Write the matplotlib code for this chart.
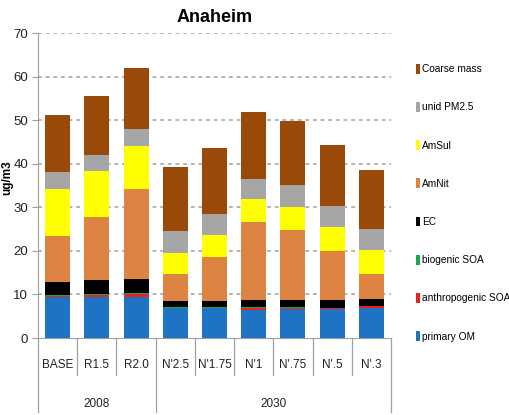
import matplotlib
matplotlib.use("Agg")
import matplotlib.pyplot as plt
import numpy as np

plt.rcParams['font.family'] = ['Liberation Sans', 'DejaVu Sans']

categories = ["BASE", "R1.5", "R2.0", "N'2.5", "N'1.75", "N'1", "N'.75", "N'.5", "N'.3"]
groups = ["2008", "2030"]
group_sizes = [3, 6]

primary_OM = [9.4, 9.4, 9.4, 6.9, 6.9, 6.5, 6.75, 6.75, 6.9]
anthro_SOA = [0.2, 0.4, 0.8, 0.1, 0.1, 0.5, 0.2, 0.1, 0.4]
biogenic_SOA = [0.2, 0.2, 0.2, 0.1, 0.2, 0.1, 0.1, 0.1, 0.1]
EC = [3.1, 3.3, 3.1, 1.4, 1.2, 1.6, 1.65, 1.75, 1.6]
AmNit = [10.5, 14.4, 20.6, 6.1, 10.2, 17.9, 16.1, 11.2, 5.6]
AmSul = [10.9, 10.6, 10.0, 4.9, 5.0, 5.2, 5.3, 5.6, 5.7]
unid_PM25 = [3.9, 3.7, 3.8, 5.1, 4.8, 4.8, 5.0, 4.8, 4.8]
coarse_mass = [13.0, 13.6, 14.0, 14.6, 15.1, 15.2, 14.8, 14.0, 13.4]

series = [
    ("primary OM", primary_OM, "#1F73C4"),
    ("anthropogenic SOA", anthro_SOA, "#E8231F"),
    ("biogenic SOA", biogenic_SOA, "#17A84E"),
    ("EC", EC, "#000000"),
    ("AmNit", AmNit, "#DE8443"),
    ("AmSul", AmSul, "#FFFF00"),
    ("unid PM2.5", unid_PM25, "#A6A6A6"),
    ("Coarse mass", coarse_mass, "#9A4A08"),
]

fig = plt.figure(figsize=(5.10, 4.15), dpi=100)
ax = fig.add_axes([38/510, 1-338/415, (391-38)/510, (338-33)/415])

x = np.arange(len(categories))
bottom = np.zeros(len(categories))
handles = []
for name, vals, col in series:
    v = np.array(vals)
    b = ax.bar(x, v, bottom=bottom, width=0.64, color=col, label=name, zorder=3)
    handles.append(b)
    bottom += v

ax.set_xlim(-0.5, len(categories) - 0.5)
ax.set_ylim(0, 70)
ax.set_yticks(np.arange(0, 71, 10))
ax.tick_params(axis='y', labelsize=9.5, colors='#A0A0A0', length=4, width=0.8, pad=3)
for lab in ax.get_yticklabels():
    lab.set_color('#222222')
ax.set_xticks([])
for y in range(10, 71, 10):
    ax.axhline(y, color='#a0a0a0', linestyle=(0, (2.5, 2.5)), linewidth=1.1, zorder=1)
for s in ['top', 'right']:
    ax.spines[s].set_visible(False)
ax.spines['left'].set_color('#A0A0A0')
ax.spines['bottom'].set_color('#A0A0A0')

ax.set_title("Anaheim", fontsize=13, fontweight='bold', pad=8)
fig.text(7/510, 1-178/415, "ug/m3", rotation=90, fontsize=8.5, fontweight='bold',
         ha='center', va='center')

trans = ax.get_xaxis_transform()
for i, c in enumerate(categories):
    ax.text(i, -0.09, c, transform=trans, ha='center', va='center', fontsize=8.5,
            color='#222222')
bounds = [-0.5]
acc = -0.5
for gsz in group_sizes:
    acc += gsz
    bounds.append(acc)
for k in range(len(categories) + 1):
    xb = k - 0.5
    ymin = -0.243 if xb in bounds else -0.121
    ax.plot([xb, xb], [0, ymin], transform=trans, color='#A0A0A0', linewidth=0.9,
            clip_on=False)
start = -0.5
for g, gsz in zip(groups, group_sizes):
    ax.text(start + gsz / 2, -0.215, g, transform=trans, ha='center', va='center',
            fontsize=8.5, color='#222222')
    start += gsz

leg = ax.legend(handles=handles[::-1], loc='upper left', bbox_to_anchor=(1.06, 0.912),
                frameon=False, fontsize=7.3, handlelength=0.4, handleheight=1.1,
                handletextpad=0.2, labelspacing=2.75, borderaxespad=0)

fig.savefig("out.png", dpi=100)
